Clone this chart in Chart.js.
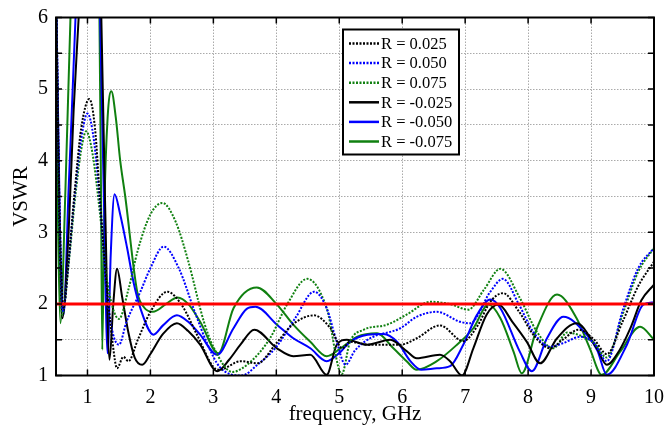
<!DOCTYPE html>
<html>
<head>
<meta charset="utf-8">
<title>VSWR vs frequency</title>
<script src="https://cdn.jsdelivr.net/npm/chart.js@4"></script>
<style>
  html, body { margin: 0; padding: 0; background: #fff; }
  #wrap { width: 665px; height: 430px; }
</style>
</head>
<body>
<div id="wrap"><canvas id="vswrChart" width="665" height="430"></canvas></div>
<script>
// axis ticks
const freqTicks = [1, 2, 3, 4, 5, 6, 7, 8, 9, 10];
const vswrTicks = [1, 1.5, 2, 2.5, 3, 3.5, 4, 4.5, 5, 5.5, 6];

const seriesLabels = ['R = 0.025', 'R = 0.050', 'R = 0.075', 'R = -0.025', 'R = -0.050', 'R = -0.075'];

// R = 0.025
const freqP025 = [0.5, 0.55, 0.62, 0.7, 0.8, 0.9, 1.03, 1.12, 1.2, 1.3, 1.4, 1.47, 1.57, 1.65, 1.8, 2.0, 2.27, 2.5, 2.75, 3.0, 3.1, 3.43, 3.7, 4.0, 4.27, 4.6, 4.86, 5.05, 5.17, 5.49, 5.97, 6.23, 6.6, 6.97, 7.2, 7.4, 7.6, 7.85, 8.1, 8.35, 8.55, 8.8, 9.05, 9.25, 9.5, 9.75, 10];
const vswrP025 = [6.6, 3.6, 1.95, 2.6, 3.6, 4.45, 4.86, 4.45, 3.45, 2.3, 1.45, 1.1, 1.26, 1.2, 1.5, 1.89, 2.17, 1.98, 1.55, 1.12, 1.08, 1.2, 1.17, 1.45, 1.72, 1.84, 1.66, 1.38, 1.47, 1.43, 1.43, 1.52, 1.70, 1.48, 1.7, 2.03, 2.15, 1.9, 1.55, 1.38, 1.5, 1.64, 1.5, 1.3, 1.75, 2.25, 2.59];

// R = 0.050
const freqP050 = [0.5, 0.55, 0.61, 0.7, 0.8, 0.9, 1.0, 1.1, 1.2, 1.3, 1.4, 1.5, 1.62, 1.84, 2.0, 2.21, 2.45, 2.7, 2.9, 3.1, 3.45, 3.7, 4.0, 4.3, 4.6, 4.8, 4.95, 5.1, 5.25, 5.49, 5.97, 6.23, 6.55, 6.92, 7.08, 7.4, 7.6, 7.85, 8.08, 8.35, 8.55, 8.83, 9.05, 9.25, 9.5, 9.75, 10];
const vswrP050 = [6.7, 3.5, 1.9, 2.6, 3.55, 4.3, 4.66, 4.3, 3.4, 2.2, 1.6, 1.43, 1.75, 2.17, 2.5, 2.80, 2.5, 1.9, 1.45, 1.12, 1.0, 1.15, 1.4, 1.8, 2.17, 1.94, 1.5, 1.15, 1.35, 1.52, 1.66, 1.82, 1.89, 1.75, 1.73, 2.17, 2.35, 2.0, 1.61, 1.4, 1.45, 1.54, 1.45, 1.2, 1.9, 2.5, 2.78];

// R = 0.075
const freqP075 = [0.5, 0.54, 0.6, 0.7, 0.8, 0.9, 0.98, 1.08, 1.2, 1.3, 1.4, 1.5, 1.65, 1.8, 2.0, 2.19, 2.4, 2.6, 2.85, 3.0, 3.3, 3.6, 3.9, 4.17, 4.49, 4.8, 5.04, 5.17, 5.39, 5.76, 6.07, 6.45, 6.75, 7.05, 7.3, 7.56, 7.87, 8.14, 8.4, 8.62, 8.85, 9.05, 9.25, 9.5, 9.75, 10];
const vswrP075 = [6.9, 3.5, 1.85, 2.55, 3.45, 4.15, 4.41, 4.1, 3.25, 2.4, 1.95, 1.79, 2.2, 2.75, 3.25, 3.41, 3.15, 2.6, 1.75, 1.4, 1.05, 1.2, 1.52, 1.99, 2.35, 1.94, 1.02, 1.47, 1.64, 1.71, 1.85, 2.03, 2.0, 1.92, 2.2, 2.49, 2.08, 1.61, 1.38, 1.6, 1.55, 1.45, 1.25, 1.85, 2.45, 2.78];

// R = -0.025
const freqN025 = [0.5, 0.55, 0.6, 0.7, 0.78, 0.86, 1.0, 1.15, 1.22, 1.28, 1.35, 1.41, 1.47, 1.55, 1.65, 1.75, 1.87, 2.0, 2.2, 2.42, 2.6, 2.79, 3.06, 3.25, 3.43, 3.65, 4.01, 4.27, 4.54, 4.8, 4.96, 5.12, 5.44, 5.81, 6.07, 6.23, 6.6, 6.76, 6.95, 7.13, 7.34, 7.53, 7.75, 7.98, 8.19, 8.46, 8.77, 9.09, 9.25, 9.45, 9.62, 9.8, 10];
const vswrN025 = [6.3, 3.2, 1.8, 3.0, 4.7, 6.0, 8.5, 8.0, 6.0, 3.4, 1.22, 2.0, 2.49, 2.1, 1.6, 1.25, 1.15, 1.3, 1.58, 1.73, 1.62, 1.43, 1.06, 1.22, 1.43, 1.64, 1.38, 1.27, 1.29, 1.01, 1.43, 1.5, 1.43, 1.5, 1.34, 1.24, 1.29, 1.2, 1.0, 1.38, 1.85, 1.99, 1.75, 1.47, 1.17, 1.52, 1.73, 1.38, 1.15, 1.35, 1.65, 2.05, 2.27];

// R = -0.050
const freqN050 = [0.5, 0.56, 0.62, 0.7, 0.81, 0.9, 1.05, 1.15, 1.2, 1.26, 1.32, 1.37, 1.43, 1.52, 1.63, 1.73, 1.84, 2.05, 2.2, 2.42, 2.6, 2.79, 3.06, 3.32, 3.53, 3.67, 4.01, 4.27, 4.54, 4.8, 5.02, 5.17, 5.45, 5.7, 5.92, 6.13, 6.3, 6.55, 6.76, 6.97, 7.19, 7.4, 7.56, 7.87, 8.06, 8.3, 8.56, 8.93, 9.1, 9.25, 9.57, 9.83, 10];
const vswrN050 = [6.5, 3.2, 1.85, 3.6, 6.0, 8.5, 9.0, 7.5, 6.0, 3.5, 1.31, 2.7, 3.53, 3.25, 2.78, 2.31, 1.94, 1.57, 1.7, 1.84, 1.75, 1.57, 1.29, 1.66, 1.93, 1.96, 1.71, 1.52, 1.38, 1.2, 1.33, 1.47, 1.57, 1.58, 1.47, 1.2, 1.08, 1.1, 1.13, 1.43, 1.85, 2.06, 1.94, 1.33, 1.06, 1.52, 1.82, 1.57, 1.35, 1.01, 1.43, 1.99, 2.02];

// R = -0.075
const freqN075 = [0.5, 0.53, 0.57, 0.65, 0.73, 0.85, 1.0, 1.12, 1.19, 1.215, 1.235, 1.27, 1.32, 1.38, 1.45, 1.52, 1.6, 1.79, 1.9, 2.04, 2.25, 2.43, 2.6, 2.79, 3.08, 3.32, 3.69, 4.01, 4.27, 4.54, 4.8, 5.02, 5.28, 5.6, 5.86, 6.07, 6.23, 6.55, 6.87, 7.13, 7.37, 7.56, 7.77, 7.9, 8.14, 8.46, 8.77, 8.98, 9.17, 9.46, 9.78, 10];
const vswrN075 = [6.5, 3.3, 1.73, 3.6, 6.0, 8.5, 9.0, 8.0, 6.0, 3.6, 1.36, 3.4, 4.6, 4.97, 4.6, 4.0, 3.5, 2.17, 1.95, 1.89, 2.0, 2.09, 2.0, 1.75, 1.31, 1.94, 2.23, 1.99, 1.71, 1.47, 1.27, 1.38, 1.54, 1.59, 1.38, 1.2, 1.08, 1.2, 1.43, 1.66, 1.99, 1.8, 1.33, 1.03, 1.66, 2.13, 1.8, 1.38, 1.01, 1.33, 1.68, 1.5];

// VSWR = 2 reference level
const limitFreq = [0.5, 10];
const limitVswr = [2, 2];

const serif = "'Liberation Serif', 'Times New Roman', serif";
Chart.defaults.font.family = serif;
Chart.defaults.color = '#000';

const dots = [2, 1.5];

function curve(label, xs, ys, color, dotted) {
  return {
    label: label,
    data: xs.map((f, i) => ({ x: f, y: ys[i] })),
    borderColor: color,
    borderWidth: 2,
    borderDash: dotted ? dots : [],
    pointRadius: 0,
    cubicInterpolationMode: 'monotone',
    fill: false,
    order: 1
  };
}

// box, inward ticks and the legend panel
const framePlugin = {
  id: 'frame',
  afterDatasetsDraw(chart) {
    const { ctx, chartArea: a, scales: { x, y } } = chart;
    ctx.save();
    ctx.setLineDash([]);
    ctx.strokeStyle = '#000';
    ctx.lineWidth = 1.5;
    ctx.beginPath();
    freqTicks.forEach(v => {
      const px = x.getPixelForValue(v);
      ctx.moveTo(px, a.bottom); ctx.lineTo(px, a.bottom - 6);
      ctx.moveTo(px, a.top); ctx.lineTo(px, a.top + 6);
    });
    vswrTicks.forEach(v => {
      const py = y.getPixelForValue(v);
      ctx.moveTo(a.left, py); ctx.lineTo(a.left + 6, py);
      ctx.moveTo(a.right, py); ctx.lineTo(a.right - 6, py);
    });
    ctx.stroke();
    ctx.lineWidth = 2;
    ctx.strokeRect(a.left, a.top, a.width, a.height);

    // legend
    const items = chart.data.datasets.filter(d => d.label);
    const bx = a.left + 287, by = a.top + 12, bw = 116, bh = 125;
    ctx.fillStyle = '#fff';
    ctx.fillRect(bx, by, bw, bh);
    ctx.strokeRect(bx, by, bw, bh);
    ctx.font = '16.5px ' + serif;
    ctx.textBaseline = 'middle';
    items.forEach((d, i) => {
      const ry = by + 14 + i * 19.6;
      ctx.strokeStyle = d.borderColor;
      ctx.lineWidth = 2.5;
      ctx.setLineDash(d.borderDash);
      ctx.beginPath();
      ctx.moveTo(bx + 6, ry); ctx.lineTo(bx + 36, ry);
      ctx.stroke();
      ctx.setLineDash([]);
      ctx.fillStyle = '#000';
      ctx.fillText(d.label, bx + 38, ry + 1);
    });
    ctx.restore();
  }
};

new Chart(document.getElementById('vswrChart'), {
  type: 'line',
  data: {
    datasets: [
      {
        data: limitFreq.map((f, i) => ({ x: f, y: limitVswr[i] })),
        borderColor: '#ff0000',
        borderWidth: 3,
        pointRadius: 0,
        fill: false,
        order: 0
      },
      curve(seriesLabels[0], freqP025, vswrP025, '#000000', true),
      curve(seriesLabels[1], freqP050, vswrP050, '#0000ff', true),
      curve(seriesLabels[2], freqP075, vswrP075, '#108010', true),
      curve(seriesLabels[3], freqN025, vswrN025, '#000000', false),
      curve(seriesLabels[4], freqN050, vswrN050, '#0000ff', false),
      curve(seriesLabels[5], freqN075, vswrN075, '#108010', false)
    ]
  },
  options: {
    responsive: false,
    animation: false,
    layout: { padding: { top: 17.5, right: 11, left: 0, bottom: 0 } },
    plugins: { legend: { display: false }, tooltip: { enabled: false } },
    scales: {
      x: {
        type: 'linear',
        min: 0.5,
        max: 10,
        afterBuildTicks: s => { s.ticks = freqTicks.map(v => ({ value: v })); },
        afterFit: s => { s.height = 54.5; s.paddingLeft = 0; s.paddingRight = 0; },
        grid: { color: '#aaaaaa', lineWidth: 1, drawTicks: false },
        border: { display: false, dash: [1.5, 1.5] },
        ticks: { font: { size: 20 }, padding: 10, maxRotation: 0 },
        title: { display: true, text: 'frequency, GHz', font: { size: 21 }, padding: { top: 0, bottom: 3 } }
      },
      y: {
        type: 'linear',
        min: 1,
        max: 6,
        afterBuildTicks: s => { s.ticks = vswrTicks.map(v => ({ value: v })); },
        afterFit: s => { s.width = 56; s.paddingTop = 0; s.paddingBottom = 0; },
        grid: { color: '#aaaaaa', lineWidth: 1, drawTicks: false },
        border: { display: false, dash: [1.5, 1.5] },
        ticks: {
          font: { size: 20 },
          padding: 8,
          callback: v => Number.isInteger(v) ? String(v) : ''
        },
        title: { display: true, text: 'VSWR', font: { size: 21 }, padding: { top: 8.5, bottom: 0 } }
      }
    }
  },
  plugins: [framePlugin]
});
</script>
</body>
</html>
